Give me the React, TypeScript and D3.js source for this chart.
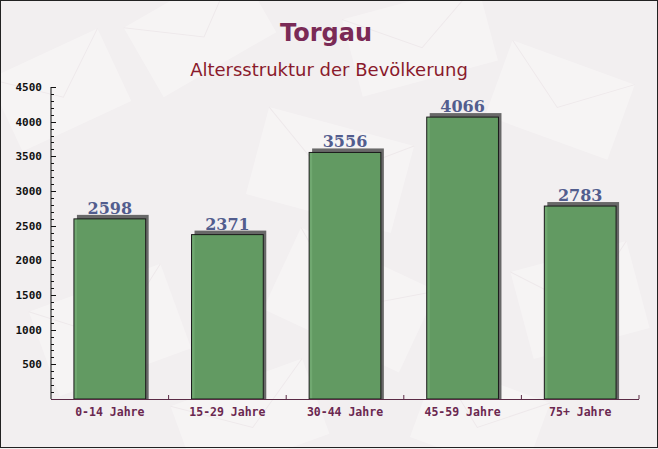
import React from "react";
import * as d3 from "d3";

const categories = ["0-14 Jahre", "15-29 Jahre", "30-44 Jahre", "45-59 Jahre", "75+ Jahre"];
const values = [2598, 2371, 3556, 4066, 2783];
const yTicks = [500, 1000, 1500, 2000, 2500, 3000, 3500, 4000, 4500];
const title = "Torgau";
const subtitle = "Altersstruktur der Bevölkerung";

const W = 658;
const H = 449;
const left = 51;
const right = 639;
const top = 87;
const bottom = 399;

export default function App() {
  const x = d3.scaleBand<string>().domain(categories).range([left, right]).paddingInner(0.39).paddingOuter(0.195);
  const y = d3.scaleLinear().domain([0, 4500]).range([bottom, top]);
  const minor = d3.range(100, 4500, 100).filter((v) => v % 500 !== 0);
  const bounds = categories.map((_, i) => left + ((right - left) / categories.length) * (i + 1));

  const envelopes = [
    { cx: 60, cy: 90, w: 120, h: 80, r: -25 },
    { cx: 330, cy: 170, w: 150, h: 90, r: 15 },
    { cx: 200, cy: 30, w: 130, h: 80, r: -30 },
    { cx: 560, cy: 100, w: 130, h: 80, r: 20 },
    { cx: 420, cy: 40, w: 140, h: 80, r: -15 },
    { cx: 110, cy: 330, w: 140, h: 90, r: -20 },
    { cx: 350, cy: 300, w: 150, h: 90, r: 25 },
    { cx: 580, cy: 300, w: 120, h: 90, r: -15 },
    { cx: 250, cy: 420, w: 140, h: 80, r: -20 },
    { cx: 480, cy: 420, w: 120, h: 80, r: 20 },
  ];

  return (
    <div style={{ position: "fixed", left: 0, top: 0 }}>
      <svg width={W} height={H} style={{ display: "block" }}>
        <rect x={0} y={0} width={W} height={H} fill="#f2eff0" />
        {envelopes.map((e, i) => (
          <g key={i} transform={`translate(${e.cx},${e.cy}) rotate(${e.r})`} opacity={0.6}>
            <rect x={-e.w / 2} y={-e.h / 2} width={e.w} height={e.h} fill="#faf8f8" />
            <path d={`M${-e.w / 2},${-e.h / 2} L0,${e.h * 0.1} L${e.w / 2},${-e.h / 2}`} fill="none" stroke="#ece6e8" strokeWidth={1} />
          </g>
        ))}
        <rect x={0.5} y={0.5} width={W - 1} height={H - 2} fill="none" stroke="#222" strokeWidth={1} />

        <text x={326} y={41} textAnchor="middle" fontFamily="DejaVu Sans, sans-serif" fontWeight="bold" fontSize={24} fill="#7a2a56">
          {title}
        </text>
        <text x={329} y={76} textAnchor="middle" fontFamily="DejaVu Sans, sans-serif" fontSize={18} fill="#8a1a2c">
          {subtitle}
        </text>

        {categories.map((c, i) => {
          const bx = x(c)!;
          const bw = x.bandwidth();
          const by = y(values[i]);
          return (
            <g key={c}>
              <rect x={bx + 3} y={by - 4} width={bw} height={bottom - by + 4} fill="#505050" opacity={0.85} />
              <rect x={bx} y={by} width={bw} height={bottom - by} fill="#62a062" fillOpacity={0.9} stroke="#1a1a1a" strokeWidth={1} />
              <text x={bx + bw / 2} y={by - 5} textAnchor="middle" fontFamily="DejaVu Serif, serif" fontWeight="bold" fontSize={16} fill="#525d8e">
                {values[i]}
              </text>
              <text x={bx + bw / 2} y={416} textAnchor="middle" fontFamily="DejaVu Sans Mono, monospace" fontWeight="bold" fontSize={11.5} fill="#6b2850">
                {c}
              </text>
            </g>
          );
        })}

        <line x1={left} x2={left} y1={top} y2={bottom} stroke="#111" strokeWidth={1} />
        <line x1={left} x2={right} y1={bottom + 0.5} y2={bottom + 0.5} stroke="#5a2a45" strokeWidth={1} />
        {bounds.map((bx, i) => (
          <line key={i} x1={bx} x2={bx} y1={bottom - 4} y2={bottom} stroke="#5a2a45" strokeWidth={1} />
        ))}
        {minor.map((v) => (
          <line key={v} x1={left} x2={left + 3} y1={Math.round(y(v)) + 0.5} y2={Math.round(y(v)) + 0.5} stroke="#111" strokeWidth={1} />
        ))}
        {yTicks.map((v) => (
          <g key={v}>
            <line x1={left} x2={left + 5} y1={Math.round(y(v)) + 0.5} y2={Math.round(y(v)) + 0.5} stroke="#111" strokeWidth={1} />
            <text x={42} y={y(v) + 4} textAnchor="end" fontFamily="DejaVu Sans Mono, monospace" fontWeight="bold" fontSize={11} fill="#111">
              {v}
            </text>
          </g>
        ))}
      </svg>
    </div>
  );
}
